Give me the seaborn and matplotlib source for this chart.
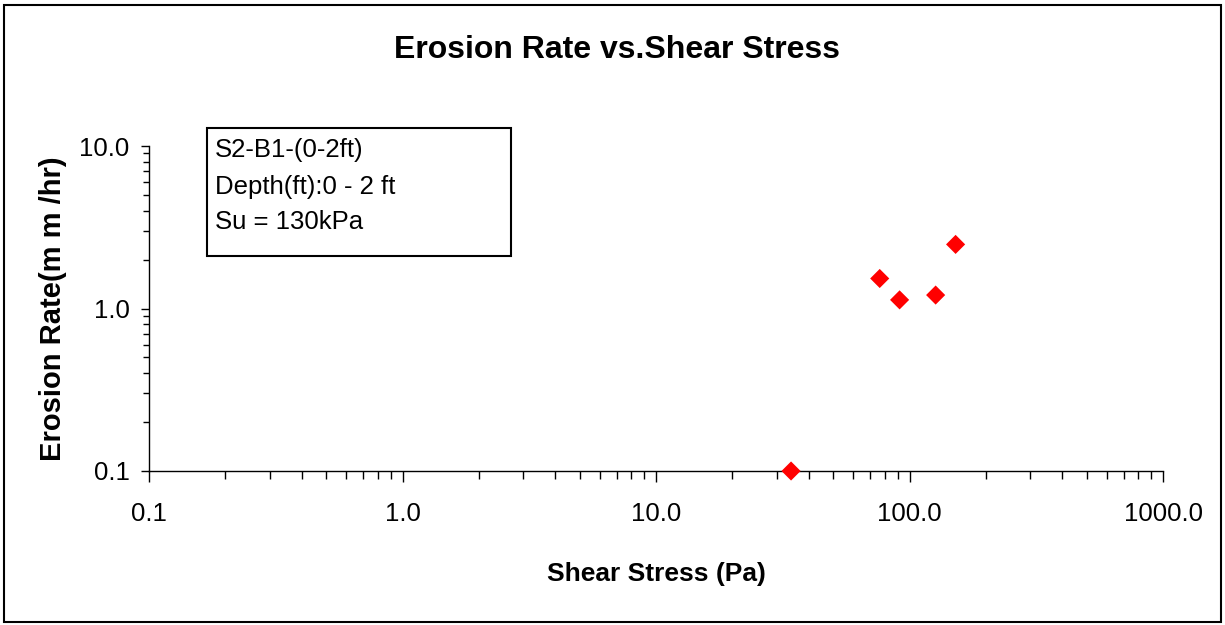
import matplotlib
matplotlib.use("Agg")
import matplotlib.pyplot as plt
import seaborn as sns
import pandas as pd
from matplotlib.patches import Rectangle
from matplotlib.ticker import FixedLocator, LogLocator, NullFormatter, FixedFormatter

shear_stress = [34.1, 76.3, 91.4, 126.8, 152.0]
erosion_rate = [0.1, 1.53, 1.13, 1.21, 2.48]
x_ticks = [0.1, 1, 10, 100, 1000]
x_tick_labels = ["0.1", "1.0", "10.0", "100.0", "1000.0"]
y_ticks = [0.1, 1, 10]
y_tick_labels = ["0.1", "1.0", "10.0"]

sns.set_style("white")
plt.rcParams['font.family'] = ['Liberation Sans', 'DejaVu Sans']
plt.rcParams['text.color'] = 'black'
plt.rcParams['axes.labelcolor'] = 'black'
plt.rcParams['xtick.color'] = 'black'
plt.rcParams['ytick.color'] = 'black'

df = pd.DataFrame({"Shear Stress (Pa)": shear_stress, "Erosion Rate": erosion_rate})

fig = plt.figure(figsize=(12.25, 6.25), dpi=100)
ax = fig.add_axes([149/1225, 1-471/625, (1163-149)/1225, (471-146)/625])

sns.scatterplot(data=df, x="Shear Stress (Pa)", y="Erosion Rate", ax=ax,
                marker="D", s=95, color="#ff0000", edgecolor="none", clip_on=False, zorder=5)

ax.set_xscale("log")
ax.set_yscale("log")
ax.set_xlim(0.1, 1000)
ax.set_ylim(0.1, 10)

ax.xaxis.set_major_locator(FixedLocator(x_ticks))
ax.xaxis.set_major_formatter(FixedFormatter(x_tick_labels))
ax.yaxis.set_major_locator(FixedLocator(y_ticks))
ax.yaxis.set_major_formatter(FixedFormatter(y_tick_labels))
ax.xaxis.set_minor_locator(LogLocator(base=10, subs=range(2, 10)))
ax.yaxis.set_minor_locator(LogLocator(base=10, subs=range(2, 10)))
ax.xaxis.set_minor_formatter(NullFormatter())
ax.yaxis.set_minor_formatter(NullFormatter())

for s in ["top", "right"]:
    ax.spines[s].set_visible(False)
for s in ["left", "bottom"]:
    ax.spines[s].set_color("black")
    ax.spines[s].set_linewidth(1.0)

ax.tick_params(axis="both", which="both", direction="out", color="black", width=1.0,
               bottom=True, left=True)
ax.tick_params(axis="x", which="major", length=8, labelsize=18.5, pad=14)
ax.tick_params(axis="x", which="minor", length=6)
ax.tick_params(axis="y", which="major", length=6, labelsize=18.5, pad=8)
ax.tick_params(axis="y", which="minor", length=4)

ax.set_xlabel("Shear Stress (Pa)", fontsize=19, fontweight="bold")
ax.set_ylabel("Erosion Rate(m m /hr)", fontsize=21, fontweight="bold")
ax.yaxis.set_label_coords(-0.081, 0.5)
ax.xaxis.set_label_coords(0.5, -0.28)

fig.text(617/1225, 1-50/625, "Erosion Rate vs.Shear Stress", ha="center", va="center",
         fontsize=23, fontweight="bold")

fig.patches.append(Rectangle((207/1225, 1-256/625), 304/1225, 128/625, transform=fig.transFigure,
                             facecolor="white", edgecolor="black", linewidth=1.5, zorder=6))
fig.text(215/1225, 1-150/625, "S2-B1-(0-2ft)", ha="left", va="center", fontsize=18.5, zorder=7)
fig.text(215/1225, 1-187/625, "Depth(ft):0 - 2 ft", ha="left", va="center", fontsize=18.5, zorder=7)
fig.text(215/1225, 1-222/625, "Su = 130kPa", ha="left", va="center", fontsize=18.5, zorder=7)

fig.patches.append(Rectangle((4/1225, 3/625), 1217/1225, 617/625, transform=fig.transFigure,
                             fill=False, edgecolor="black", linewidth=1.5))

fig.savefig("out.png", dpi=100)
